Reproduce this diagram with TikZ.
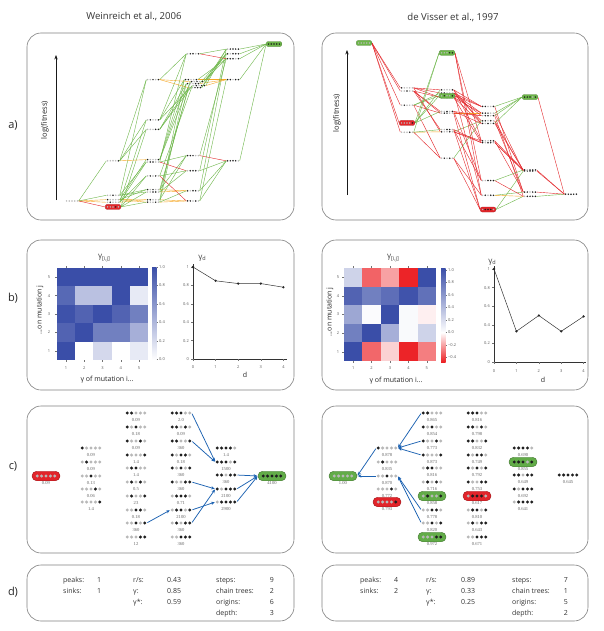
\documentclass[tikz,border=0pt]{standalone}
\usepackage{fontspec}
\setmainfont{Open Sans}
\newfontfamily\numfont{Liberation Serif}
\usetikzlibrary{arrows.meta,backgrounds}

\definecolor{egreen}{RGB}{108,182,72}
\definecolor{ered}{RGB}{228,38,42}
\definecolor{eorange}{RGB}{246,168,38}
\definecolor{hblue}{RGB}{58,78,168}
\definecolor{hred}{RGB}{236,32,36}
\definecolor{cgreen}{RGB}{98,172,72}
\definecolor{cred}{RGB}{226,36,42}
\definecolor{ablue}{RGB}{28,98,178}

\def\fmap#1{0}
% genotype node for panel a: [style]{prefix}{bits}{x}{fitness}{dy}
\newcommand\gA[6][]{%
  \pgfmathsetmacro\gyy{\fmap{#5}}%
  \expandafter\xdef\csname gfy#2#3\endcsname{\gyy}%
  \node[anode,#1] (#2#3) at (#4,\gyy+#6) {};%
  \gDots{#2#3}{2.7}{0.85pt}#3%
}
\def\gDots#1#2#3#4#5#6#7#8{%
  \fill[dc#4] (#1.center) ++(-2*#2,0) circle (#3);
  \fill[dc#5] (#1.center) ++(-#2,0) circle (#3);
  \fill[dc#6] (#1.center) circle (#3);
  \fill[dc#7] (#1.center) ++(#2,0) circle (#3);
  \fill[dc#8] (#1.center) ++(2*#2,0) circle (#3);
}
% edge coloured by fitness change: {threshold}{src}{tgt}
\newcommand\gE[3]{%
  \pgfmathsetmacro\gdd{\csname gfy#3\endcsname-(\csname gfy#2\endcsname)}%
  \ifdim\gdd pt>#1pt \def\gec{ered}\else\ifdim\gdd pt<-#1pt \def\gec{egreen}\else\def\gec{eorange}\fi\fi
  \draw[aedge,draw=\gec] (#2.east) -- (#3.west);%
}
% genotype node for panel c: [style]{name}{x}{y}{bits}{label}
\newcommand\gC[6][]{%
  \node[cnode,#1] (#2) at (#3,#4) {};%
  \gDots{#2}{4.4}{1.65pt}#5%
  \node[clabel] (#2l) at (#3,#4+7.2) {#6};%
}
\def\cubeedges{00000/10000,00000/01000,00000/00100,00000/00010,00000/00001,%
10000/11000,10000/10100,10000/10010,10000/10001,%
01000/11000,01000/01100,01000/01010,01000/01001,%
00100/10100,00100/01100,00100/00110,00100/00101,%
00010/10010,00010/01010,00010/00110,00010/00011,%
00001/10001,00001/01001,00001/00101,00001/00011,%
11000/11100,11000/11010,11000/11001,%
10100/11100,10100/10110,10100/10101,%
10010/11010,10010/10110,10010/10011,%
10001/11001,10001/10101,10001/10011,%
01100/11100,01100/01110,01100/01101,%
01010/11010,01010/01110,01010/01011,%
01001/11001,01001/01101,01001/01011,%
00110/10110,00110/01110,00110/00111,%
00101/10101,00101/01101,00101/00111,%
00011/10011,00011/01011,00011/00111,%
11100/11110,11100/11101,%
11010/11110,11010/11011,%
11001/11101,11001/11011,%
10110/11110,10110/10111,%
10101/11101,10101/10111,%
10011/11011,10011/10111,%
01110/11110,01110/01111,%
01101/11101,01101/01111,%
01011/11011,01011/01111,%
00111/10111,00111/01111,%
11110/11111,11101/11111,11011/11111,10111/11111,01111/11111}

\begin{document}
\begin{tikzpicture}[x=1pt,y=-1pt,
  panelbox/.style={draw=black!50, line width=0.6pt, rounded corners=14pt},
  titletxt/.style={font=\fontsize{9.6}{11}\selectfont, text=black!80},
  plabel/.style={font=\fontsize{11}{13}\selectfont, text=black!85},
  axlab/.style={font=\fontsize{7.5}{9}\selectfont, text=black!85},
  axarrow/.style={draw=black!90, line width=0.7pt, -{Stealth[length=4.5pt,width=3.4pt]}},
  anode/.style={inner sep=0, minimum width=13pt, minimum height=2.5pt},
  acapr/.style={fill=ered, draw=ered!75!black, line width=0.3pt, rounded corners=2pt, minimum width=15.5pt, minimum height=5pt},
  acapg/.style={fill=egreen, draw=egreen!70!black, line width=0.3pt, rounded corners=2pt, minimum width=15.5pt, minimum height=5pt},
  aedge/.style={line width=0.4pt},
  dc0/.style={fill=black!28},
  dc1/.style={fill=black!88},
  cnode/.style={inner sep=0, minimum width=21pt, minimum height=4pt},
  ccapr/.style={fill=cred, draw=cred!70!black, line width=0.4pt, rounded corners=4.6pt, minimum width=28pt, minimum height=9.5pt},
  ccapg/.style={fill=cgreen, draw=cgreen!70!black, line width=0.4pt, rounded corners=4.6pt, minimum width=28pt, minimum height=9.5pt},
  clabel/.style={font=\numfont\fontsize{4.6}{5}\selectfont, text=black!60, inner sep=0},
  carr/.style={draw=ablue, line width=0.75pt, -{Stealth[length=3.6pt,width=3.2pt]}, shorten <=0.8pt, shorten >=0.6pt},
  tick/.style={draw=black!55, line width=0.3pt},
  ticklab/.style={font=\fontsize{4}{4}\selectfont, text=black!65, inner sep=0},
  btitle/.style={font=\fontsize{8}{9}\selectfont, text=black!75},
  bax/.style={font=\fontsize{7}{8}\selectfont, text=black!85},
  plotax/.style={draw=black!80, line width=0.4pt},
  plotline/.style={draw=black!80, line width=0.5pt},
  dtxt/.style={font=\fontsize{7}{8}\selectfont, text=black!80, inner sep=0, anchor=base west},
  dval/.style={font=\fontsize{7}{8}\selectfont, text=black!80, inner sep=0, anchor=base east}]
\useasboundingbox (0,0) rectangle (603,631);
\begin{scope}[on background layer]
\fill[white] (0,0) rectangle (603,631);
\end{scope}

% titles and panel labels
\node[titletxt] (t1) at (134,16) {Weinreich et al., 2006};
\node[titletxt] (t2) at (453,17) {de Visser et al., 1997};
\node[plabel] (la) at (13,125) {a)};
\node[plabel] (lb) at (13,298) {b)};
\node[plabel] (lc) at (13,466) {c)};
\node[plabel] (ld) at (13,592) {d)};

% panel boxes
\draw[panelbox] (27,33) rectangle (294,220);
\draw[panelbox] (322,33) rectangle (588,220);
\draw[panelbox] (27,240) rectangle (294,390);
\draw[panelbox] (322,240) rectangle (588,390);
\draw[panelbox] (27,406) rectangle (294,553);
\draw[panelbox] (322,406) rectangle (588,553);
\draw[panelbox] (27,565) rectangle (294,621);
\draw[panelbox] (322,565) rectangle (588,621);

% ================= panel a, left =================
\coordinate (wlo) at (56,200); \coordinate (whi) at (56,55);
\draw[axarrow] (wlo) -- (whi);
\node[axlab,rotate=90] (wlab) at (45,120) {log(fitness)};
\def\fmap#1{44+(3.613-log10(#1))*33.7}
\gA{w}{00000}{72}{0.09}{0}
\gA{w}{10000}{113}{0.09}{-1.3}
\gA{w}{01000}{113}{0.09}{1.3}
\gA{w}{00100}{113}{0.13}{0}
\gA[acapr]{w}{00010}{113}{0.06}{0}
\gA{w}{00001}{113}{1.4}{0}
\gA{w}{11000}{153}{0.09}{-1.2}
\gA{w}{10100}{153}{0.18}{-1.2}
\gA{w}{10010}{153}{0.09}{1.2}
\gA{w}{10001}{153}{1.4}{-1.2}
\gA{w}{01100}{153}{1.4}{1.2}
\gA{w}{01010}{153}{0.5}{0}
\gA{w}{01001}{153}{23}{0}
\gA{w}{00110}{153}{0.18}{1.2}
\gA{w}{00101}{153}{360}{0}
\gA{w}{00011}{153}{12}{0}
\gA{w}{11100}{193}{2.0}{0}
\gA{w}{11010}{193}{0.09}{0}
\gA{w}{11001}{191}{360}{0}
\gA{w}{10110}{193}{0.18}{0}
\gA{w}{10101}{197}{360}{2}
\gA{w}{10011}{193}{360}{4}
\gA{w}{01110}{193}{0.71}{0}
\gA{w}{01101}{193}{2100}{0}
\gA{w}{01011}{199}{360}{6}
\gA{w}{00111}{195}{360}{8}
\gA{w}{11110}{233}{1.4}{0}
\gA{w}{11101}{233}{1500}{0}
\gA{w}{11011}{233}{360}{0}
\gA{w}{10111}{233}{2100}{0}
\gA{w}{01111}{233}{2900}{0}
\gA[acapg]{w}{11111}{274}{4100}{0}
\begin{scope}[on background layer]
\foreach \s/\t in \cubeedges {\gE{0.5}{w\s}{w\t}}
\end{scope}

% ================= panel a, right =================
\coordinate (vlo) at (347,195); \coordinate (vhi) at (347,50);
\draw[axarrow] (vlo) -- (vhi);
\node[axlab,rotate=90] (vlab) at (337,113) {log(fitness)};
\def\fmap#1{43-794*log10(#1)}
\gA[acapg]{v}{00000}{364}{1.00}{0}
\gA{v}{10000}{407}{0.878}{0}
\gA{v}{01000}{407}{0.835}{0}
\gA{v}{00100}{407}{0.870}{0}
\gA{v}{00010}{407}{0.772}{0}
\gA[acapr]{v}{00001}{407}{0.793}{0}
\gA{v}{11000}{447}{0.865}{0}
\gA{v}{10100}{447}{0.854}{0}
\gA{v}{10010}{447}{0.773}{0}
\gA{v}{10001}{447}{0.873}{0}
\gA{v}{01100}{447}{0.816}{0}
\gA{v}{01010}{447}{0.716}{0}
\gA[acapg]{v}{01001}{447}{0.858}{0}
\gA{v}{00110}{447}{0.778}{0}
\gA{v}{00101}{447}{0.820}{0}
\gA[acapg]{v}{00011}{447}{0.972}{0}
\gA{v}{11100}{488}{0.816}{0}
\gA{v}{11010}{488}{0.798}{0}
\gA{v}{11001}{488}{0.832}{0}
\gA{v}{10110}{488}{0.749}{0}
\gA{v}{10101}{488}{0.792}{0}
\gA{v}{10011}{488}{0.753}{0}
\gA[acapr]{v}{01110}{488}{0.617}{0}
\gA{v}{01101}{488}{0.810}{0}
\gA{v}{01011}{488}{0.643}{0}
\gA{v}{00111}{488}{0.671}{0}
\gA{v}{11110}{530}{0.690}{0}
\gA[acapg]{v}{11101}{530}{0.855}{0}
\gA{v}{11011}{530}{0.649}{0}
\gA{v}{10111}{530}{0.692}{0}
\gA{v}{01111}{530}{0.641}{0}
\gA{v}{11111}{571}{0.645}{0}
\begin{scope}[on background layer]
\foreach \s/\t in \cubeedges {\gE{1.2}{v\s}{v\t}}
\end{scope}

% ================= panel b, left =================
\node[btitle] (bt1) at (104,258) {γ\raisebox{-1.6pt}{\fontsize{5.5}{6}\selectfont [i,j]}};
\foreach \c/\r/\p in {1/5/100,2/5/100,3/5/100,4/5/100,5/5/100,
  1/4/85,2/4/35,3/4/35,4/4/100,5/4/12,
  1/3/98,2/3/88,3/3/100,4/3/88,5/3/72,
  1/2/88,2/2/100,3/2/72,4/2/72,5/2/45,
  1/1/100,2/1/0,3/1/22,4/1/0,5/1/12}
  {\fill[hblue!\p!white] ({57+(\c-1)*18.2},{268+(5-\r)*18.4}) rectangle ++(18.2,18.4);}
\foreach \i in {1,...,5} {
  \draw[tick] ({57+(\i-0.5)*18.2},360) -- ++(0,2);
  \draw[tick] ({57+(\i-0.5)*18.2},268) -- ++(0,-2);
  \draw[tick] (57,{268+(\i-0.5)*18.4}) -- ++(-2,0);
  \node[ticklab] at ({57+(\i-0.5)*18.2},368) {\i};
  \node[ticklab] at (49,{268+(5.5-\i)*18.4}) {\i};
}
\shade[bottom color=white, top color=hblue] (152,267) rectangle (156.5,360);
\foreach \k/\l in {0/1.0,1/0.8,2/0.6,3/0.4,4/0.2,5/0.0} {
  \draw[tick] (156.5,{267+\k*18.5}) -- ++(1.5,0);
  \node[ticklab,anchor=west] at (159,{267+\k*18.5}) {\l};
}
\node[bax] (bx1) at (107,380) {γ of mutation i...};
\node[bax,rotate=90] (by1) at (40,310) {...on mutation j};
% line plot left
\node[btitle] (bg1) at (202,258) {γ\raisebox{-1.6pt}{\fontsize{5.5}{6}\selectfont d}};
\coordinate (lp0) at (193,264); \coordinate (lp1) at (193,359); \coordinate (lp2) at (287,359);
\draw[plotax] (lp0) -- (lp1) -- (lp2);
\foreach \i in {0,...,4} {
  \draw[tick] ({193+\i*22.6},359) -- ++(0,2);
  \node[ticklab] at ({193+\i*22.6},367) {\i};
}
\foreach \v/\l in {0/0,0.2/0.2,0.4/0.4,0.6/0.6,0.8/0.8,1/1} {
  \draw[tick] (193,{359-\v*92}) -- ++(-2,0);
  \node[ticklab,anchor=east] at (189,{359-\v*92}) {\l};
}
\draw[plotline] (193,{359-1*92}) -- ({193+22.6},{359-0.85*92}) -- ({193+2*22.6},{359-0.82*92}) -- ({193+3*22.6},{359-0.82*92}) -- ({193+4*22.6},{359-0.78*92});
\foreach \i/\v in {0/1,1/0.85,2/0.82,3/0.82,4/0.78}
  \fill[black!85] ({193+\i*22.6},{359-\v*92}) circle (1.3pt);
\node[bax] (bd1) at (245,375) {d};

% ================= panel b, right =================
\node[btitle] (bt2) at (393,258) {γ\raisebox{-1.6pt}{\fontsize{5.5}{6}\selectfont [i,j]}};
\foreach \c/\r/\cl/\p in {1/5/hblue/25,2/5/hred/70,3/5/hred/42,4/5/hred/98,5/5/hblue/100,
  1/4/hblue/88,2/4/hblue/72,3/4/hblue/82,4/4/hblue/97,5/4/hblue/80,
  1/3/hblue/50,2/3/hblue/2,3/3/hblue/100,4/3/hblue/3,5/3/hred/7,
  1/2/hblue/72,2/2/hblue/100,3/2/hblue/45,4/2/hblue/3,5/2/hblue/25,
  1/1/hblue/100,2/1/hred/68,3/1/hred/20,4/1/hred/98,5/1/hred/58}
  {\fill[\cl!\p!white] ({344+(\c-1)*18.4},{268+(5-\r)*18.6}) rectangle ++(18.4,18.6);}
\foreach \i in {1,...,5} {
  \draw[tick] ({344+(\i-0.5)*18.4},361) -- ++(0,2);
  \draw[tick] ({344+(\i-0.5)*18.4},268) -- ++(0,-2);
  \draw[tick] (344,{268+(\i-0.5)*18.6}) -- ++(-2,0);
  \node[ticklab] at ({344+(\i-0.5)*18.4},368) {\i};
  \node[ticklab] at (338,{268+(5.5-\i)*18.6}) {\i};
}
\shade[bottom color=white, top color=hblue] (441,268) rectangle (445.5,332.5);
\shade[bottom color=hred, top color=white] (441,332.5) rectangle (445.5,362);
\foreach \k/\l in {0/1.0,1/0.8,2/0.6,3/0.4,4/0.2,5/0.0,6/−0.2,7/−0.4} {
  \draw[tick] (445.5,{270+\k*12.5}) -- ++(1.5,0);
  \node[ticklab,anchor=west] at (448,{270+\k*12.5}) {\l};
}
\node[bax] (bx2) at (396,381) {γ of mutation i...};
\node[bax,rotate=90] (by2) at (330,312) {...on mutation j};
% line plot right
\node[btitle] (bg2) at (492,262) {γ\raisebox{-1.6pt}{\fontsize{5.5}{6}\selectfont d}};
\coordinate (rp0) at (494,266); \coordinate (rp1) at (494,362); \coordinate (rp2) at (586,362);
\draw[plotax] (rp0) -- (rp1) -- (rp2);
\foreach \i in {0,...,4} {
  \draw[tick] ({494+\i*22.4},362) -- ++(0,2);
  \node[ticklab] at ({494+\i*22.4},371) {\i};
}
\foreach \v/\l in {0/0,0.2/0.2,0.4/0.4,0.6/0.6,0.8/0.8,1/1} {
  \draw[tick] (494,{362-\v*93}) -- ++(-2,0);
  \node[ticklab,anchor=east] at (490,{362-\v*93}) {\l};
}
\draw[plotline] (494,{362-1*93}) -- ({494+22.4},{362-0.33*93}) -- ({494+2*22.4},{362-0.5*93}) -- ({494+3*22.4},{362-0.33*93}) -- ({494+4*22.4},{362-0.49*93});
\foreach \i/\v in {0/1,1/0.33,2/0.5,3/0.33,4/0.49}
  \fill[black!85] ({494+\i*22.4},{362-\v*93}) circle (1.3pt);
\node[bax] (bd2) at (543,380) {d};

% ================= panel c, left =================
\gC[ccapr]{LA}{46}{476}{00000}{0.09}
\gC{LB1}{91}{448}{10000}{0.09}
\gC{LB2}{91}{462}{01000}{0.09}
\gC{LB3}{91}{476}{00100}{0.13}
\gC{LB4}{91}{489}{00010}{0.06}
\gC{LB5}{91}{502}{00001}{1.4}
\gC{LC1}{136}{413}{11000}{0.09}
\gC{LC2}{136}{427}{10100}{0.18}
\gC{LC3}{136}{441}{10010}{0.09}
\gC{LC4}{136}{455}{10001}{1.4}
\gC{LC5}{136}{468}{01100}{1.4}
\gC{LC6}{136}{482}{01010}{0.5}
\gC{LC7}{136}{496}{01001}{23}
\gC{LC8}{136}{510}{00110}{0.18}
\gC{LC9}{136}{523}{00101}{360}
\gC{LC10}{136}{537}{00011}{12}
\gC{LD1}{181}{413}{11100}{2.0}
\gC{LD2}{181}{427}{11010}{0.09}
\gC{LD3}{181}{441}{11001}{360}
\gC{LD4}{181}{455}{10110}{0.18}
\gC{LD5}{181}{468}{10101}{360}
\gC{LD6}{181}{482}{10011}{360}
\gC{LD7}{181}{496}{01110}{0.71}
\gC{LD8}{181}{510}{01101}{2100}
\gC{LD9}{181}{523}{01011}{360}
\gC{LD10}{181}{537}{00111}{360}
\gC{LE1}{226}{448}{11110}{1.4}
\gC{LE2}{226}{462}{11101}{1500}
\gC{LE3}{226}{475}{11011}{360}
\gC{LE4}{226}{489}{10111}{2100}
\gC{LE5}{226}{502}{01111}{2900}
\gC[ccapg]{LF}{272}{476}{11111}{4100}
\draw[carr] (LC9.east) -- (LD8.west);
\draw[carr] (LD1.east) -- (LE2.west);
\draw[carr] (LD3.east) -- (LE2.west);
\draw[carr] (LD6.east) -- (LE4.west);
\draw[carr] (LD8.east) -- (LE5.west);
\draw[carr] (LD9.east) -- (LE4.west);
\draw[carr] (LE3.east) -- (LF.west);
\draw[carr] (LE4.east) -- (LF.west);
\draw[carr] (LE5.east) -- (LF.west);

% ================= panel c, right =================
\gC[ccapg]{RA}{343}{476}{00000}{1.00}
\gC{RB1}{387}{448}{10000}{0.878}
\gC{RB2}{387}{462}{01000}{0.835}
\gC{RB3}{387}{476}{00100}{0.870}
\gC{RB4}{387}{489}{00010}{0.772}
\gC[ccapr]{RB5}{387}{502}{00001}{0.793}
\gC{RC1}{432}{413}{11000}{0.865}
\gC{RC2}{432}{427}{10100}{0.854}
\gC{RC3}{432}{441}{10010}{0.773}
\gC{RC4}{432}{455}{10001}{0.873}
\gC{RC5}{432}{468}{01100}{0.816}
\gC{RC6}{432}{482}{01010}{0.716}
\gC[ccapg]{RC7}{432}{496}{01001}{0.858}
\gC{RC8}{432}{510}{00110}{0.778}
\gC{RC9}{432}{523}{00101}{0.820}
\gC[ccapg]{RC10}{432}{537}{00011}{0.972}
\gC{RD1}{477}{413}{11100}{0.816}
\gC{RD2}{477}{427}{11010}{0.798}
\gC{RD3}{477}{441}{11001}{0.832}
\gC{RD4}{477}{455}{10110}{0.749}
\gC{RD5}{477}{468}{10101}{0.792}
\gC{RD6}{477}{482}{10011}{0.753}
\gC[ccapr]{RD7}{477}{496}{01110}{0.617}
\gC{RD8}{477}{510}{01101}{0.810}
\gC{RD9}{477}{523}{01011}{0.643}
\gC{RD10}{477}{537}{00111}{0.671}
\gC{RE1}{523}{448}{11110}{0.690}
\gC[ccapg]{RE2}{523}{462}{11101}{0.855}
\gC{RE3}{523}{475}{11011}{0.649}
\gC{RE4}{523}{489}{10111}{0.692}
\gC{RE5}{523}{502}{01111}{0.641}
\gC{RF}{568}{475}{11111}{0.645}
\draw[carr] (RC1.west) -- (RB1.east);
\draw[carr] (RC3.west) -- (RB1.east);
\draw[carr] (RC4.west) -- (RB1.east);
\draw[carr] (RB1.west) -- (RA.east);
\draw[carr] (RB3.west) -- (RA.east);
\draw[carr] (RC8.west) -- (RB3.east);
\draw[carr] (RC9.west) -- (RB3.east);

% ================= panel d =================
\node[dtxt] (d1a) at (63,582) {peaks:};   \node[dtxt] (d1b) at (97,582) {1};
\node[dtxt] (d1c) at (63,593) {sinks:};   \node[dtxt] (d1d) at (97,593) {1};
\node[dtxt] (d1e) at (133,582) {r/s:};    \node[dtxt] (d1f) at (167,582) {0.43};
\node[dtxt] (d1g) at (133,593) {γ:};      \node[dtxt] (d1h) at (167,593) {0.85};
\node[dtxt] (d1i) at (133,604) {γ*:};     \node[dtxt] (d1j) at (167,604) {0.59};
\node[dtxt] (d1k) at (216,582) {steps:};  \node[dval] (d1l) at (274,582) {9};
\node[dtxt] (d1m) at (216,593) {chain trees:}; \node[dval] (d1n) at (274,593) {2};
\node[dtxt] (d1o) at (216,604) {origins:};     \node[dval] (d1p) at (274,604) {6};
\node[dtxt] (d1q) at (216,615) {depth:};       \node[dval] (d1r) at (274,615) {3};

\node[dtxt] (d2a) at (360,582) {peaks:};   \node[dtxt] (d2b) at (394,582) {4};
\node[dtxt] (d2c) at (360,593) {sinks:};   \node[dtxt] (d2d) at (394,593) {2};
\node[dtxt] (d2e) at (426,582) {r/s:};     \node[dtxt] (d2f) at (461,582) {0.89};
\node[dtxt] (d2g) at (426,593) {γ:};       \node[dtxt] (d2h) at (461,593) {0.33};
\node[dtxt] (d2i) at (426,604) {γ*:};      \node[dtxt] (d2j) at (461,604) {0.25};
\node[dtxt] (d2k) at (512,582) {steps:};   \node[dval] (d2l) at (568,582) {7};
\node[dtxt] (d2m) at (512,593) {chain trees:}; \node[dval] (d2n) at (568,593) {1};
\node[dtxt] (d2o) at (512,604) {origins:};     \node[dval] (d2p) at (568,604) {5};
\node[dtxt] (d2q) at (512,615) {depth:};       \node[dval] (d2r) at (568,615) {2};
\end{tikzpicture}
\end{document}
